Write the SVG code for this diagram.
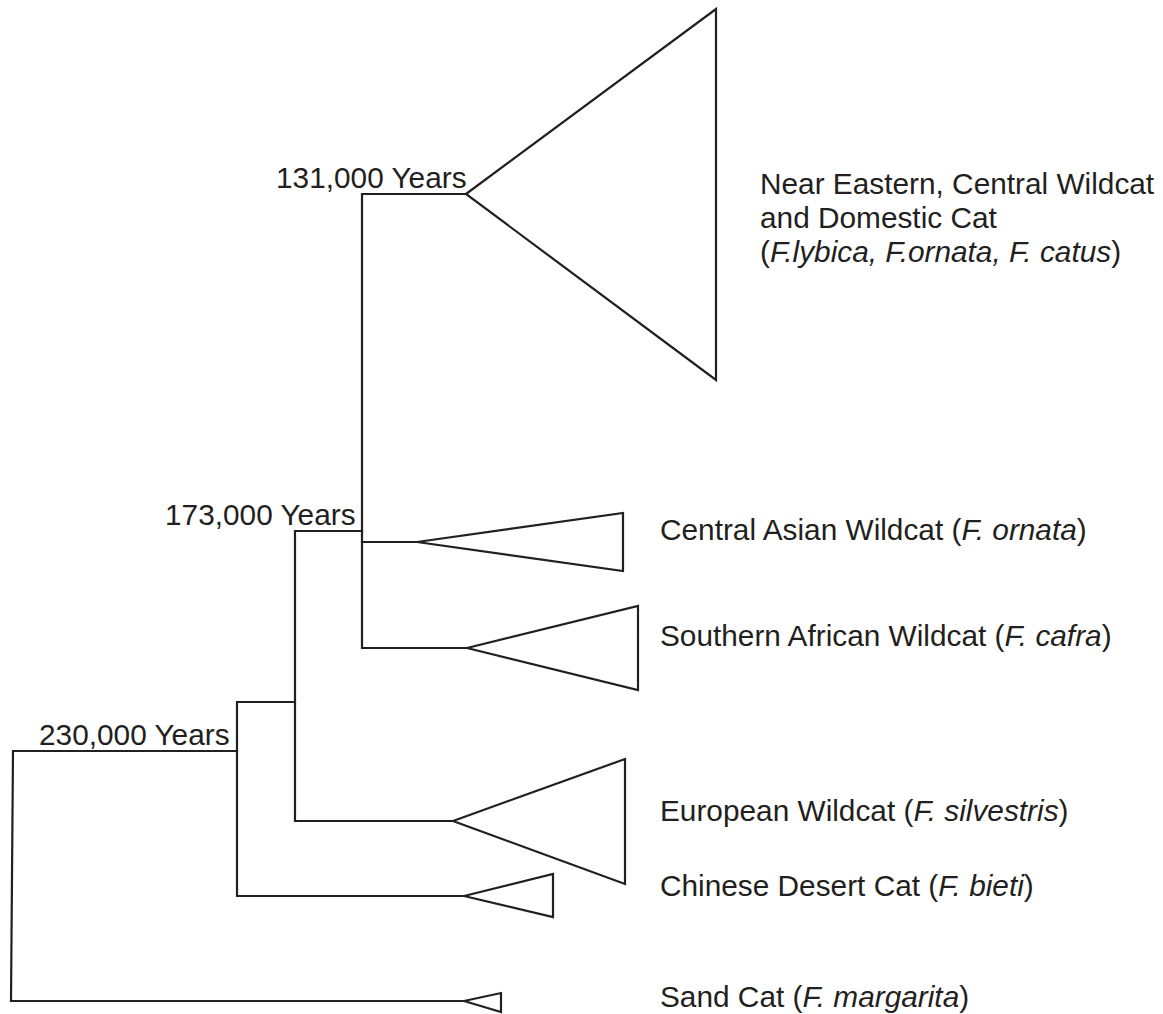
<svg xmlns="http://www.w3.org/2000/svg" width="1163" height="1014" viewBox="0 0 1163 1014">
<style>
.ln{fill:none;stroke:#231f20;stroke-width:2.2;stroke-linejoin:miter;stroke-linecap:square}
.tri{fill:#fff;stroke:#231f20;stroke-width:2.2;stroke-linejoin:miter}
text{font-family:"Liberation Sans",Arial,sans-serif;font-size:29.8px;fill:#231f20}
.it{font-style:italic}
</style>
<rect width="1163" height="1014" fill="#fff"/>
<g id="connectors">
<polyline class="ln" points="466,194 362,194 362,648 467,648"/>
<line class="ln" x1="362" y1="542" x2="417" y2="542"/>
<polyline class="ln" points="362,531 295,531 295,821 453,821"/>
<polyline class="ln" points="295,702 237,702 237,896 464,896"/>
<polyline class="ln" points="237,751 13,751 11,1001 464,1001"/>
</g>
<g id="clade-near-eastern">
<polygon class="tri" points="466,194 716,9 716,380"/>
<text x="760" y="194">Near Eastern, Central Wildcat</text>
<text x="760" y="228">and Domestic Cat</text>
<text x="760" y="262">(<tspan class="it">F.lybica, F.ornata, F. catus</tspan>)</text>
</g>
<g id="clade-central-asian">
<polygon class="tri" points="417,542 623,513 623,571"/>
<text x="660" y="540">Central Asian Wildcat (<tspan class="it">F. ornata</tspan>)</text>
</g>
<g id="clade-southern-african">
<polygon class="tri" points="467,648 638,606 638,690"/>
<text x="660" y="646">Southern African Wildcat (<tspan class="it">F. cafra</tspan>)</text>
</g>
<g id="clade-european">
<polygon class="tri" points="453,821 625,759 625,884"/>
<text x="660" y="821">European Wildcat (<tspan class="it">F. silvestris</tspan>)</text>
</g>
<g id="clade-chinese-desert">
<polygon class="tri" points="464,896 553,874 553,917"/>
<text x="660" y="896">Chinese Desert Cat (<tspan class="it">F. bieti</tspan>)</text>
</g>
<g id="clade-sand">
<polygon class="tri" points="464,1001 501,993 501,1012"/>
<text x="660" y="1007">Sand Cat (<tspan class="it">F. margarita</tspan>)</text>
</g>
<g id="node-131k"><text x="276" y="188">131,000 Years</text></g>
<g id="node-173k"><text x="165" y="525">173,000 Years</text></g>
<g id="node-230k"><text x="39" y="745">230,000 Years</text></g>
</svg>
